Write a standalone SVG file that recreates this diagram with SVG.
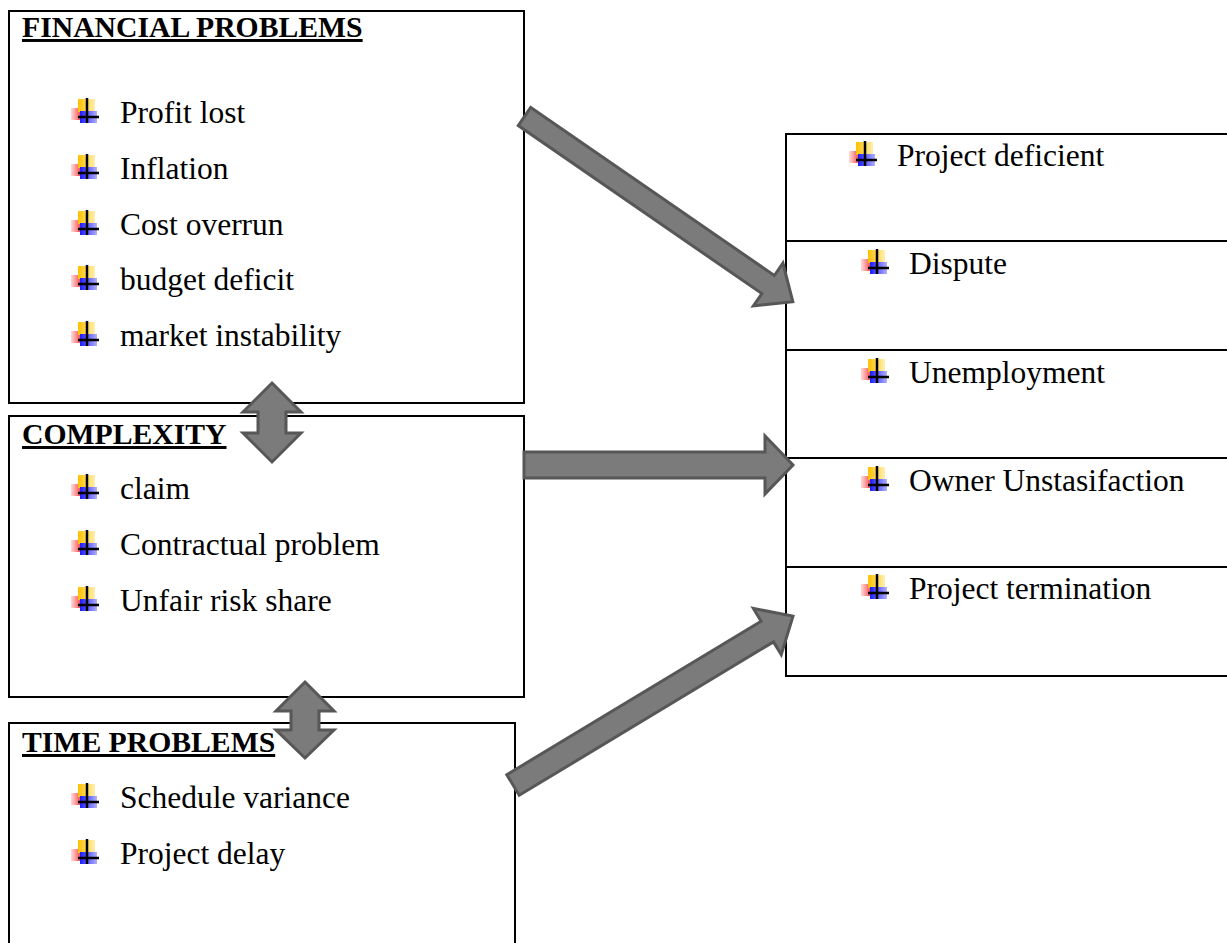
<svg xmlns="http://www.w3.org/2000/svg" width="1227" height="943" viewBox="0 0 1227 943">
<style>
.box{fill:#fff;stroke:#000;stroke-width:2}
.t{font-family:"Liberation Serif","Times New Roman",serif;font-size:31.5px;fill:#000}
.h{font-family:"Liberation Serif","Times New Roman",serif;font-size:29.7px;font-weight:bold;fill:#000;text-decoration:underline}
.arr{fill:#7b7b7b;stroke:#575757;stroke-width:3;stroke-linejoin:miter}
</style>
<defs>
<linearGradient id="gy" x1="0" y1="0" x2="1" y2="0"><stop offset="0" stop-color="#ffc000"/><stop offset="1" stop-color="#fff0b0"/></linearGradient>
<linearGradient id="gr" x1="0" y1="0" x2="1" y2="0"><stop offset="0" stop-color="#ff8080" stop-opacity="0.3"/><stop offset="1" stop-color="#f03838"/></linearGradient>
<linearGradient id="gb" x1="0" y1="0" x2="1" y2="0"><stop offset="0" stop-color="#1a1aff"/><stop offset="1" stop-color="#b0b0ff"/></linearGradient>
<g id="bul">
<rect x="-16" y="-9" width="10" height="12" fill="url(#gr)"/>
<rect x="-9" y="-18" width="17" height="13" fill="url(#gy)"/>
<rect x="-7" y="-6" width="17" height="12" fill="url(#gb)"/>
<line x1="0" y1="-19" x2="0" y2="6" stroke="#000" stroke-width="2.5"/>
<line x1="-9" y1="0" x2="12" y2="0" stroke="#000" stroke-width="2.5"/>
</g>
</defs>

<g id="financial">
<rect class="box" x="9" y="11" width="515" height="392"/>
<text class="h" x="22" y="37">FINANCIAL PROBLEMS</text>
<use href="#bul" x="87" y="117"/><text class="t" x="120" y="123">Profit lost</text>
<use href="#bul" x="87" y="173"/><text class="t" x="120" y="179">Inflation</text>
<use href="#bul" x="87" y="229"/><text class="t" x="120" y="235">Cost overrun</text>
<use href="#bul" x="87" y="284"/><text class="t" x="120" y="290">budget deficit</text>
<use href="#bul" x="87" y="340"/><text class="t" x="120" y="346">market instability</text>
</g>

<g id="complexity">
<rect class="box" x="9" y="416" width="515" height="281"/>
<text class="h" x="22" y="444">COMPLEXITY</text>
<use href="#bul" x="87" y="493"/><text class="t" x="120" y="499">claim</text>
<use href="#bul" x="87" y="549"/><text class="t" x="120" y="555">Contractual problem</text>
<use href="#bul" x="87" y="605"/><text class="t" x="120" y="611">Unfair risk share</text>
</g>

<g id="time">
<rect class="box" x="9" y="723" width="506" height="230"/>
<text class="h" x="22" y="752">TIME PROBLEMS</text>
<use href="#bul" x="87" y="802"/><text class="t" x="120" y="808">Schedule variance</text>
<use href="#bul" x="87" y="858"/><text class="t" x="120" y="864">Project delay</text>
</g>

<g id="effects">
<rect class="box" x="786" y="134" width="460" height="542"/>
<line x1="786" y1="241" x2="1240" y2="241" stroke="#000" stroke-width="2"/>
<line x1="786" y1="350" x2="1240" y2="350" stroke="#000" stroke-width="2"/>
<line x1="786" y1="458" x2="1240" y2="458" stroke="#000" stroke-width="2"/>
<line x1="786" y1="567" x2="1240" y2="567" stroke="#000" stroke-width="2"/>
<use href="#bul" x="865" y="160"/><text class="t" x="897" y="166">Project deficient</text>
<use href="#bul" x="877" y="268"/><text class="t" x="909" y="274">Dispute</text>
<use href="#bul" x="877" y="377"/><text class="t" x="909" y="383">Unemployment</text>
<use href="#bul" x="877" y="485"/><text class="t" x="909" y="491">Owner Unstasifaction</text>
<use href="#bul" x="877" y="593"/><text class="t" x="909" y="599">Project termination</text>
</g>

<g id="connectors">
<polygon class="arr" transform="translate(524.5,116.5) rotate(34.6)" points="0,-11 296,-11 296,-26 326,0 296,26 296,11 0,11"/>
<polygon class="arr" transform="translate(524,465)" points="0,-13 241,-13 241,-29 269,0 241,29 241,13 0,13"/>
<polygon class="arr" transform="translate(513,785) rotate(-31.1)" points="0,-12 297,-12 297,-27 327,0 297,27 297,12 0,12"/>
<polygon class="arr" points="272,383 301,412 286,412 286,433 301,433 272,462 243,433 258,433 258,412 243,412"/>
<polygon class="arr" points="305,682 334,711 319,711 319,730 334,730 305,758 276,730 291,730 291,711 276,711"/>
</g>
</svg>
